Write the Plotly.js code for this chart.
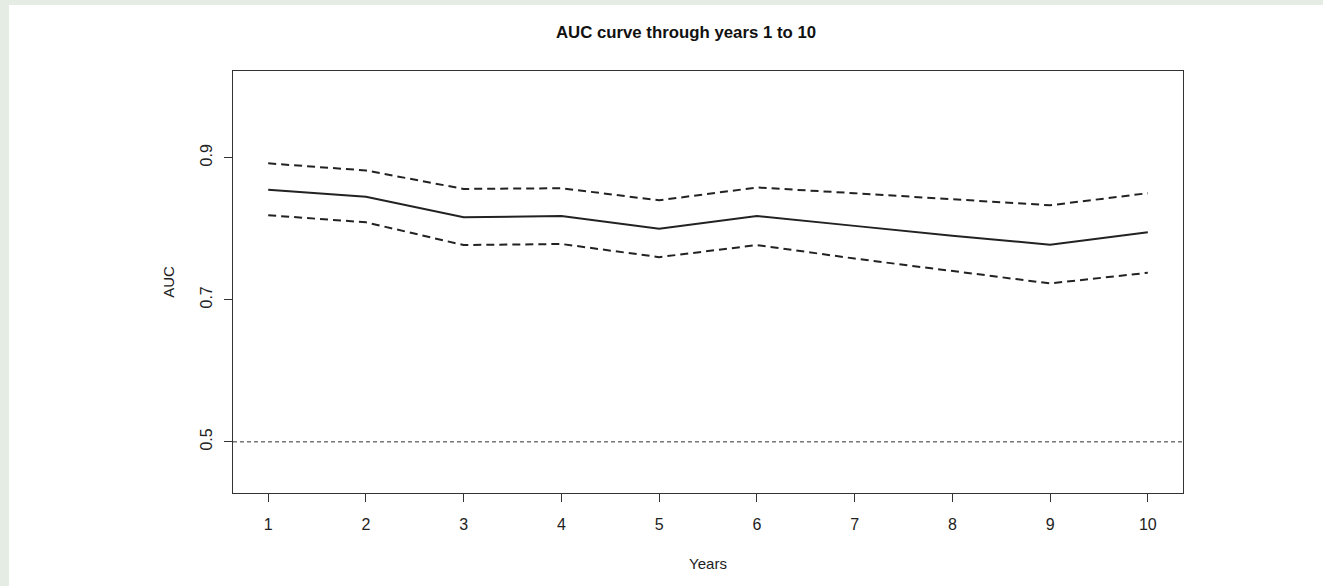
<!DOCTYPE html>
<html>
<head>
<meta charset="utf-8">
<script src="https://cdn.plot.ly/plotly-3.0.1.min.js"></script>
<style>
  html, body { margin: 0; padding: 0; background: #e4ece3; width: 1323px; height: 586px; overflow: hidden; }
  #chart { position: absolute; left: 9px; top: 5px; width: 1314px; height: 581px; background: #ffffff; }
</style>
</head>
<body>
<div id="chart"></div>
<script>
const years = [1, 2, 3, 4, 5, 6, 7, 8, 9, 10];
const aucMean  = [0.855, 0.845, 0.816, 0.818, 0.800, 0.818, 0.804, 0.790, 0.7775, 0.795];
const aucUpper = [0.892, 0.882, 0.856, 0.857, 0.840, 0.858, 0.850, 0.842, 0.833, 0.850];
const aucLower = [0.819, 0.809, 0.777, 0.7785, 0.760, 0.777, 0.758, 0.740, 0.723, 0.738];
const refLevel = 0.5;
const xTicks = [1, 2, 3, 4, 5, 6, 7, 8, 9, 10];
const yTicks = [0.5, 0.7, 0.9];
const yTickLabels = ['0.5', '0.7', '0.9'];

const font = 'Liberation Sans, Arial, Helvetica, sans-serif';
const ink = '#222222';

const traces = [
  { x: years, y: aucUpper, mode: 'lines', line: { color: ink, width: 2, dash: '8px,5px' }, hoverinfo: 'skip' },
  { x: years, y: aucMean, mode: 'lines', line: { color: ink, width: 2 }, hoverinfo: 'skip' },
  { x: years, y: aucLower, mode: 'lines', line: { color: ink, width: 2, dash: '8px,5px' }, hoverinfo: 'skip' }
];

const layout = {
  width: 1314, height: 581,
  margin: { l: 224, r: 140, t: 66, b: 93, pad: 0 },
  paper_bgcolor: '#ffffff', plot_bgcolor: '#ffffff',
  showlegend: false,
  font: { family: font, color: ink, size: 14 },
  title: {
    text: '<b>AUC curve through years 1 to 10</b>',
    font: { family: font, size: 16.8, color: '#111111' },
    x: 677 / 1314, xref: 'container', xanchor: 'center',
    y: 1 - 27 / 581, yref: 'container', yanchor: 'middle'
  },
  xaxis: {
    range: [0.64, 10.36], tickvals: xTicks, ticktext: xTicks.map(String),
    showgrid: false, zeroline: false,
    showline: true, linecolor: '#333333', linewidth: 1, mirror: true,
    ticks: 'outside', ticklen: 8, tickcolor: '#333333', tickwidth: 1,
    ticklabelstandoff: 9,
    tickfont: { family: font, size: 16, color: ink },
    title: { text: 'Years', font: { family: font, size: 15, color: ink }, standoff: 26 }
  },
  yaxis: {
    range: [0.428, 1.022], tickvals: yTicks, ticktext: yTickLabels,
    showgrid: false, zeroline: false,
    showline: true, linecolor: '#333333', linewidth: 1, mirror: true,
    ticks: 'outside', ticklen: 8, tickcolor: '#333333', tickwidth: 1,
    tickangle: -90, ticklabelstandoff: 6,
    tickfont: { family: font, size: 16, color: ink },
    title: { text: 'AUC', font: { family: font, size: 15, color: ink }, standoff: 19 }
  },
  shapes: [
    { type: 'line', xref: 'paper', yref: 'y', x0: 0, x1: 1, y0: refLevel, y1: refLevel,
      line: { color: '#333333', width: 1, dash: '4px,3px' } }
  ]
};

Plotly.newPlot('chart', traces, layout, { staticPlot: true, displayModeBar: false });
</script>
</body>
</html>
